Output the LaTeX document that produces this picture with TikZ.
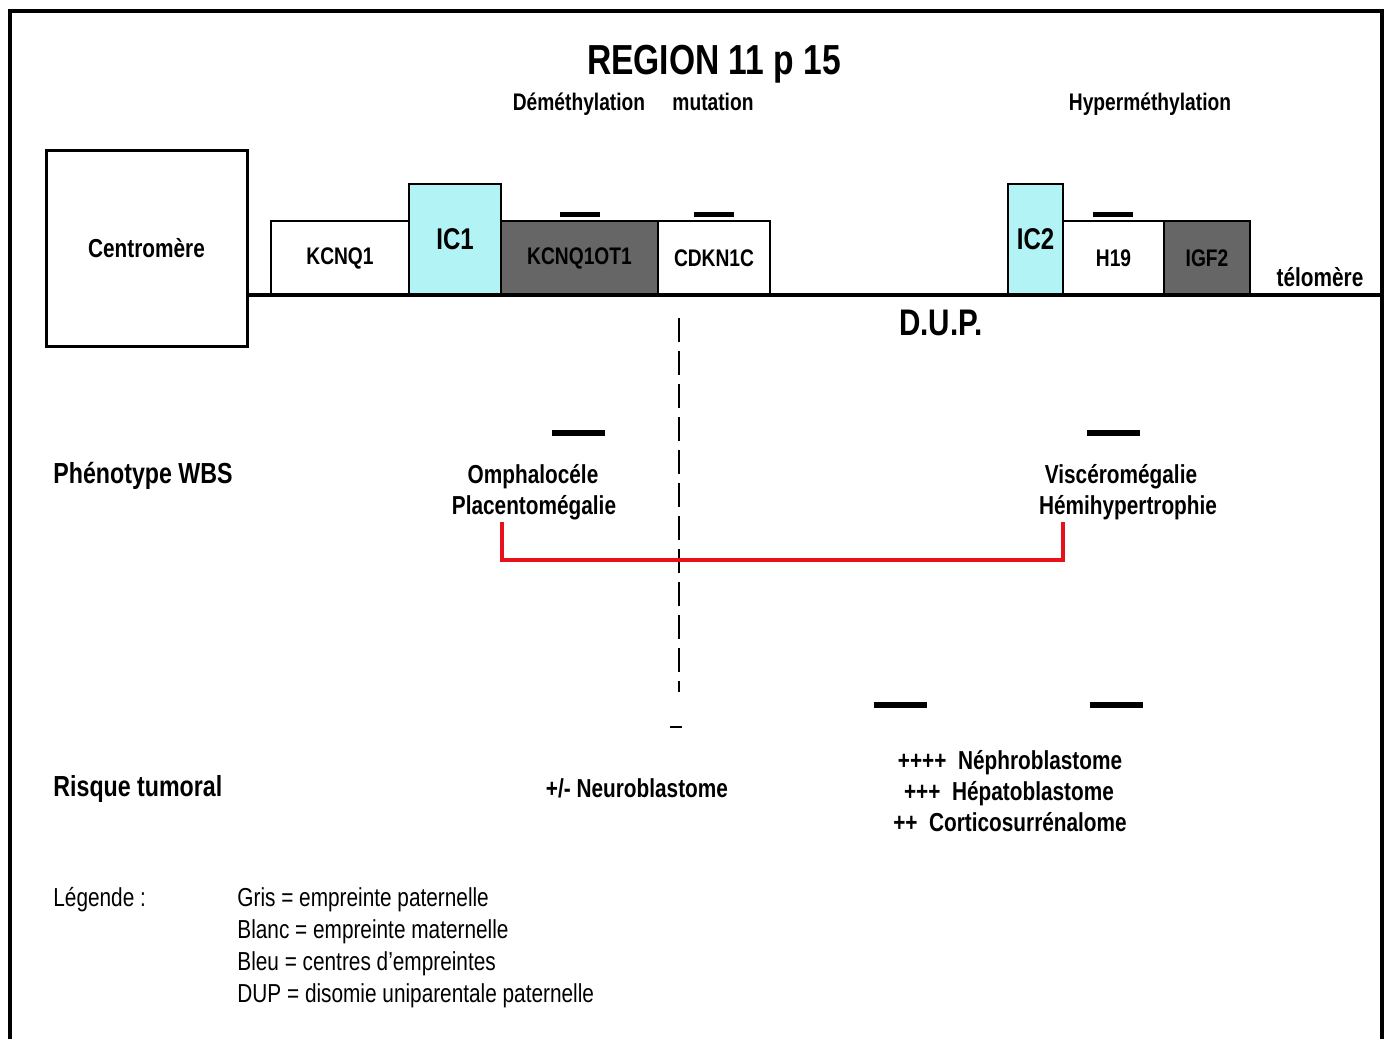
\documentclass[tikz,border=0pt]{standalone}
\usepackage{fontspec}
\setmainfont{Liberation Sans}[FakeStretch=0.8]
\usetikzlibrary{positioning}

\definecolor{icblue}{HTML}{B2F3F6}
\definecolor{patgray}{HTML}{666666}
\definecolor{linkred}{HTML}{E8101A}

\begin{document}
\begin{tikzpicture}[
        x=0.5pt,
        y=-0.5pt,
        gene/.style={draw=black, line width=1pt, inner sep=0pt, outer sep=0pt,
            minimum height=37pt, font=\fontsize{12}{14}\selectfont\bfseries},
        icbox/.style={gene, fill=icblue, minimum height=55.5pt,
            font=\fontsize{15}{17}\selectfont\bfseries},
        patbox/.style={gene, fill=patgray},
        label/.style={inner sep=0pt, anchor=base, font=\fontsize{13}{15}\selectfont\bfseries},
        rowlabel/.style={label, anchor=base west, font=\fontsize{14.5}{16}\selectfont\bfseries},
        legtext/.style={inner sep=0pt, anchor=base west, font=\fontsize{13}{15}\selectfont},
        mark bar/.style={line width=3pt},
        tick bar/.style={line width=2.5pt}
    ]

    \useasboundingbox (0,0) rectangle (1389,1039);

    % frame
    \draw[line width=2pt] (10,1045) -- (10,11) -- (1382,11) -- (1382,1045);

    % title
    \node[label, font=\fontsize{21}{24}\selectfont\bfseries] (title) at (714,74) {REGION 11 p 15};
    \node[label, font=\fontsize{12}{14}\selectfont\bfseries] (demeth) at (579,110) {Déméthylation};
    \node[label, font=\fontsize{12}{14}\selectfont\bfseries] (mutation) at (713,110) {mutation};
    \node[label, font=\fontsize{12}{14}\selectfont\bfseries] (hypermeth) at (1150,110) {Hyperméthylation};

    % centromere
    \node[draw, line width=1.5pt, minimum width=100.5pt, minimum height=98pt,
        font=\fontsize{13}{15}\selectfont\bfseries] (centro) at (146.5,248) {Centromère};

    % genes
    \node[gene, minimum width=69pt, anchor=south west] (kcnq1) at (271,295) {KCNQ1};
    \node[icbox, minimum width=46pt, right=0pt of kcnq1.south east, anchor=south west] (ic1) {IC1};
    \node[patbox, minimum width=78.5pt, right=0pt of ic1.south east, anchor=south west] (kcnq1ot1) {KCNQ1OT1};
    \node[gene, minimum width=56pt, right=0pt of kcnq1ot1.south east, anchor=south west] (cdkn1c) {CDKN1C};

    \node[icbox, minimum width=27.5pt, anchor=south west] (ic2) at (1008,295) {IC2};
    \node[gene, minimum width=50.5pt, right=0pt of ic2.south east, anchor=south west] (h19) {H19};
    \node[patbox, minimum width=43pt, right=0pt of h19.south east, anchor=south west] (igf2) {IGF2};

    % chromosome
    \coordinate (telend) at (1382,295);
    \draw[line width=2pt] (centro.east |- kcnq1.south) -- (telend);
    \node[label] (telomere) at (1320,286) {télomère};
    \node[label, font=\fontsize{18.5}{20}\selectfont\bfseries] (dup) at (941,335) {D.U.P.};

    % small marks over genes
    \draw[tick bar] (560,214) -- (600,214);
    \draw[tick bar] (694,214) -- (734,214);
    \draw[tick bar] (1093,214) -- (1133,214);

    % dup boundary
    \coordinate (cutTop) at (679,318);
    \coordinate (cutBot) at (679,692);
    \draw[line width=1pt, dash pattern=on 12pt off 4.5pt] (cutTop) -- (cutBot);
    \draw[line width=1pt] (670,727) -- (682,727);

    % phenotype
    \node[rowlabel] (pheno) at (53,483) {Phénotype WBS};
    \draw[mark bar] (552,433) -- (605,433);
    \draw[mark bar] (1087,433) -- (1140,433);
    \node[label] (ompha) at (533,483) {Omphalocéle};
    \node[label] (placento) at (534,514) {Placentomégalie};
    \node[label] (viscero) at (1121,483) {Viscéromégalie};
    \node[label] (hemihyp) at (1128,514) {Hémihypertrophie};

    \coordinate (linkL) at (502,522);
    \coordinate (linkR) at (1063,522);
    \draw[linkred, line width=2pt] (linkL) -- ++(0,38) -| (linkR);

    % tumour risk
    \node[rowlabel] (risk) at (53,796) {Risque tumoral};
    \draw[mark bar] (874,705) -- (927,705);
    \draw[mark bar] (1090,705) -- (1143,705);
    \node[label] (neuro) at (637,797) {+/- Neuroblastome};
    \node[label] (nephro) at (1010,769) {++++ \ Néphroblastome};
    \node[label] (hepato) at (1009,800) {+++ \ Hépatoblastome};
    \node[label] (cortico) at (1010,831) {++ \ Corticosurrénalome};

    % legend
    \node[legtext] (legend) at (53,906) {Légende :};
    \node[legtext] (leggris) at (237,906) {Gris = empreinte paternelle};
    \node[legtext] (legblanc) at (237,938) {Blanc = empreinte maternelle};
    \node[legtext] (legbleu) at (237,970) {Bleu = centres d'empreintes};
    \node[legtext] (legdup) at (237,1002) {DUP = disomie uniparentale paternelle};

\end{tikzpicture}
\end{document}
